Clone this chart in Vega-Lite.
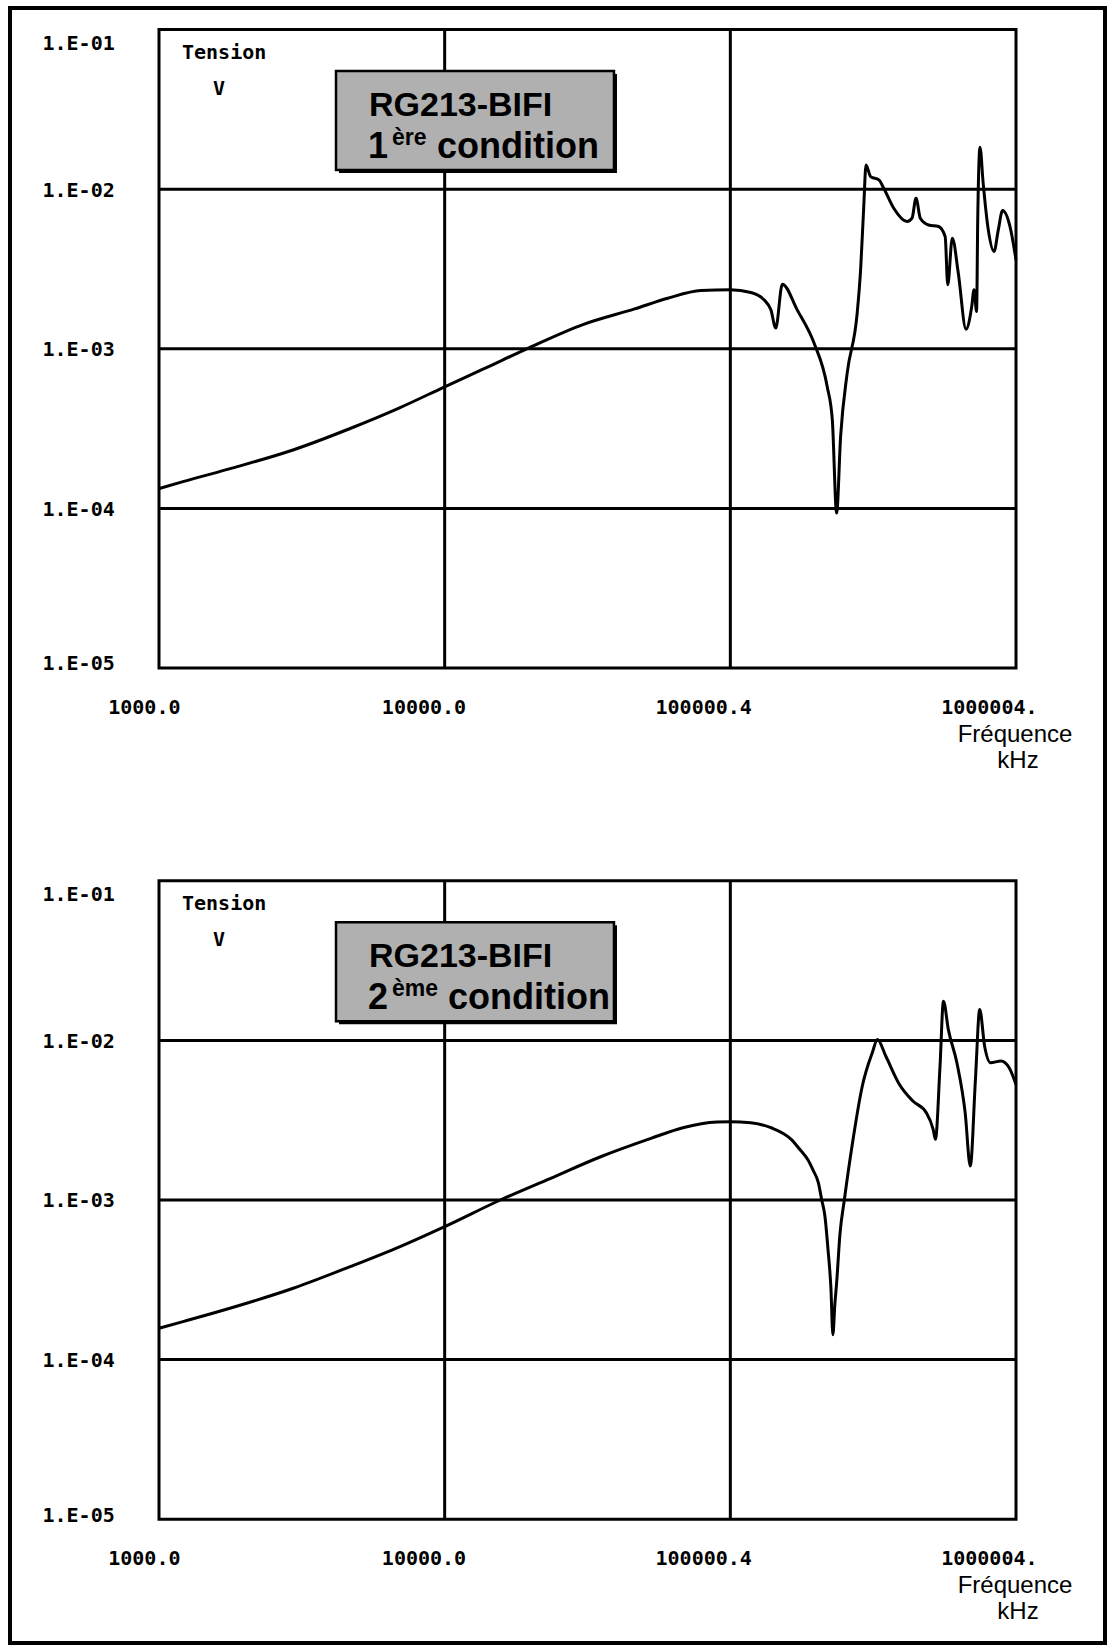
{
  "$schema": "https://vega.github.io/schema/vega-lite/v6.json",
  "width": 1110,
  "height": 1645,
  "autosize": {"type": "fit", "contains": "padding"},
  "padding": {"left": 10, "top": 8, "right": 5, "bottom": 2},
  "background": "white",
  "config": {"view": {"stroke": "black", "strokeWidth": 4}, "font": "Liberation Sans"},
  "datasets": {
    "curve1": [
      {"f": 1000, "v": 0.00013305}, {"f": 1213.4, "v": 0.00014723}, {"f": 1815.5, "v": 0.00017947}, {"f": 2944.4, "v": 0.00023227},
      {"f": 4645.2, "v": 0.0003155}, {"f": 6950.2, "v": 0.00042658}, {"f": 10000, "v": 0.0005781}, {"f": 13614, "v": 0.00074473},
      {"f": 19815, "v": 0.0010186}, {"f": 30479, "v": 0.0014191}, {"f": 46238, "v": 0.0017783},
      {"f": 60395, "v": 0.0020749}, {"f": 78886, "v": 0.0023174}, {"f": 100000, "v": 0.0023442}, {"f": 118032, "v": 0.0022542},
      {"f": 131222, "v": 0.0020277}, {"f": 138676, "v": 0.0017539}, {"f": 144212, "v": 0.001349}, {"f": 152055, "v": 0.002541},
      {"f": 171396, "v": 0.0017539}, {"f": 196336, "v": 0.0010864}, {"f": 218273, "v": 0.00058076}, {"f": 227510, "v": 0.00035892},
      {"f": 235505, "v": 0.00009354}, {"f": 243220, "v": 0.00028249}, {"f": 256448, "v": 0.00070469}, {"f": 277971, "v": 0.0016711},
      {"f": 285759, "v": 0.0031261}, {"f": 293089, "v": 0.0077804}, {"f": 298538, "v": 0.014191}, {"f": 309742, "v": 0.011995},
      {"f": 331131, "v": 0.011429}, {"f": 344350, "v": 0.010139}, {"f": 373250, "v": 0.0076033}, {"f": 415911, "v": 0.0062661},
      {"f": 432514, "v": 0.0065766}, {"f": 446684, "v": 0.0087902}, {"f": 462381, "v": 0.0065766}, {"f": 494311, "v": 0.0059704},
      {"f": 535797, "v": 0.0058345}, {"f": 564937, "v": 0.0050466}, {"f": 576766, "v": 0.0025177}, {"f": 598412, "v": 0.0049317},
      {"f": 628058, "v": 0.0029785}, {"f": 668344, "v": 0.0013274}, {"f": 699842, "v": 0.0018408}, {"f": 712853, "v": 0.0023442},
      {"f": 727780, "v": 0.001714}, {"f": 734514, "v": 0.0064269}, {"f": 748170, "v": 0.018323}, {"f": 767361, "v": 0.010914},
      {"f": 799834, "v": 0.005559}, {"f": 837529, "v": 0.0040644}, {"f": 866962, "v": 0.005559}, {"f": 897429, "v": 0.0073451},
      {"f": 952796, "v": 0.0058345}, {"f": 1000000, "v": 0.0036058}
    ],
    "curve2": [
      {"f": 1000, "v": 0.00015704}, {"f": 1213.4, "v": 0.00017298}, {"f": 1819.7, "v": 0.00021281}, {"f": 2951.2, "v": 0.0002799},
      {"f": 4666.6, "v": 0.00038194}, {"f": 6982.3, "v": 0.0005105}, {"f": 10000, "v": 0.00068077}, {"f": 15668, "v": 0.001},
      {"f": 23496, "v": 0.0013677}, {"f": 35156, "v": 0.0018664}, {"f": 52723, "v": 0.0024322}, {"f": 68234, "v": 0.0028379},
      {"f": 89743, "v": 0.0030832}, {"f": 100000, "v": 0.0030974}, {"f": 117761, "v": 0.0030479}, {"f": 138676, "v": 0.0028379},
      {"f": 163305, "v": 0.0023988}, {"f": 175792, "v": 0.0020559}, {"f": 187068, "v": 0.0017783}, {"f": 194984, "v": 0.0015311},
      {"f": 203236, "v": 0.0012853}, {"f": 208930, "v": 0.001}, {"f": 214289, "v": 0.00079433}, {"f": 219786, "v": 0.00048753},
      {"f": 224905, "v": 0.00028184}, {"f": 228560, "v": 0.00014322}, {"f": 232274, "v": 0.00022387}, {"f": 235505, "v": 0.0003013},
      {"f": 242103, "v": 0.00061944}, {"f": 250611, "v": 0.001}, {"f": 266686, "v": 0.0021777}, {"f": 289734, "v": 0.0051761},
      {"f": 314051, "v": 0.0083753}, {"f": 327341, "v": 0.010139}, {"f": 349945, "v": 0.0079799}, {"f": 390841, "v": 0.0052966},
      {"f": 435512, "v": 0.0041687}, {"f": 485289, "v": 0.0035237}, {"f": 512861, "v": 0.0027733}, {"f": 522396, "v": 0.0023988},
      {"f": 542001, "v": 0.0069024}, {"f": 557186, "v": 0.01762}, {"f": 579429, "v": 0.011722}, {"f": 620869, "v": 0.0072444},
      {"f": 663743, "v": 0.0035237}, {"f": 691831, "v": 0.0016331}, {"f": 721107, "v": 0.0057016}, {"f": 746449, "v": 0.015631},
      {"f": 776247, "v": 0.0092257}, {"f": 814704, "v": 0.0072444}, {"f": 885116, "v": 0.0074302}, {"f": 946237, "v": 0.0067453},
      {"f": 1000000, "v": 0.0052966}
    ],
    "hgrid": [{"v": 0.01}, {"v": 0.001}, {"v": 0.0001}],
    "vgrid": [{"f": 10000}, {"f": 100000}],
    "one": [{"item": "shape"}],
    "annot": [
      {"panel": "top", "key": "tension", "text": "Tension"},
      {"panel": "top", "key": "unit", "text": "V"},
      {"panel": "top", "key": "name", "text": "RG213-BIFI"},
      {"panel": "top", "key": "num", "text": "1"},
      {"panel": "top", "key": "sup", "text": "ère"},
      {"panel": "top", "key": "cond", "text": "condition"},
      {"panel": "top", "key": "xt1", "text": "Fréquence"},
      {"panel": "top", "key": "xt2", "text": "kHz"},
      {"panel": "bottom", "key": "tension", "text": "Tension"},
      {"panel": "bottom", "key": "unit", "text": "V"},
      {"panel": "bottom", "key": "name", "text": "RG213-BIFI"},
      {"panel": "bottom", "key": "num", "text": "2"},
      {"panel": "bottom", "key": "sup", "text": "ème"},
      {"panel": "bottom", "key": "cond", "text": "condition"},
      {"panel": "bottom", "key": "xt1", "text": "Fréquence"},
      {"panel": "bottom", "key": "xt2", "text": "kHz"}
    ]
  },
  "layer": [
    {
      "layer": [
        {
          "data": {"name": "curve1"},
          "mark": {"type": "line", "color": "black", "strokeWidth": 3, "interpolate": "monotone"},
          "encoding": {
            "x": {"field": "f", "type": "quantitative", "scale": {"type": "log", "domain": [300.9, 2048900], "nice": false},
              "axis": {"orient": "bottom", "offset": -975, "values": [1000, 10000, 100000, 1000000],
                "labelExpr": "datum.value == 1000 ? '1000.0' : datum.value == 10000 ? '10000.0' : datum.value == 100000 ? '100000.4' : '1000004.'",
                "title": null, "domain": false, "ticks": false, "tickSize": 0, "grid": false,
                "labelAlign": "right", "labelBaseline": "alphabetic", "labelOffset": 21, "labelPadding": 45,
                "labelFont": "DejaVu Sans Mono", "labelFontWeight": "bold", "labelFontSize": 20, "labelColor": "black",
                "labelFlush": false, "labelOverlap": false, "labelBound": false}},
            "y": {"field": "v", "type": "quantitative", "scale": {"type": "log", "domain": [7.78e-12, 0.13656], "nice": false},
              "axis": {"orient": "left", "offset": -32, "values": [0.00001, 0.0001, 0.001, 0.01, 0.1],
                "labelExpr": "'1.E-0' + format(-log(datum.value) / LN10, '.0f')",
                "title": null, "domain": false, "ticks": false, "tickSize": 0, "grid": false,
                "labelAlign": "left", "labelBaseline": "middle", "labelPadding": 0,
                "labelOffset": {"condition": [{"test": "datum.value > 0.05", "value": 14}, {"test": "datum.value < 0.00002", "value": -4}], "value": 1},
                "labelFont": "DejaVu Sans Mono", "labelFontWeight": "bold", "labelFontSize": 20, "labelColor": "black",
                "labelFlush": false, "labelOverlap": false, "labelBound": false}}
          }
        },
        {
          "data": {"name": "hgrid"},
          "mark": {"type": "rule", "color": "black", "strokeWidth": 3},
          "encoding": {"y": {"field": "v", "type": "quantitative"}, "x": {"datum": 1000, "type": "quantitative"}, "x2": {"datum": 1000000}}
        },
        {
          "data": {"name": "vgrid"},
          "mark": {"type": "rule", "color": "black", "strokeWidth": 3},
          "encoding": {"x": {"field": "f", "type": "quantitative"}, "y": {"datum": 0.00001, "type": "quantitative"}, "y2": {"datum": 0.1}}
        },
        {
          "data": {"name": "one"},
          "mark": {"type": "rect", "filled": false, "stroke": "black", "strokeWidth": 3},
          "encoding": {"x": {"datum": 1000, "type": "quantitative"}, "x2": {"datum": 1000000}, "y": {"datum": 0.00001, "type": "quantitative"}, "y2": {"datum": 0.1}}
        },
        {
          "data": {"name": "one"},
          "mark": {"type": "rect", "fill": "black"},
          "encoding": {"x": {"datum": 4267, "type": "quantitative"}, "x2": {"datum": 40104}, "y": {"datum": 0.01264, "type": "quantitative"}, "y2": {"datum": 0.05267}}
        },
        {
          "data": {"name": "one"},
          "mark": {"type": "rect", "fill": "#b0b0b0", "stroke": "black", "strokeWidth": 2.5},
          "encoding": {"x": {"datum": 4165, "type": "quantitative"}, "x2": {"datum": 39144}, "y": {"datum": 0.0132, "type": "quantitative"}, "y2": {"datum": 0.055}}
        },
        {
          "data": {"name": "annot"}, "transform": [{"filter": "datum.panel == 'top' && datum.key == 'tension'"}],
          "mark": {"type": "text", "align": "left", "baseline": "alphabetic", "dx": 23, "dy": 29, "font": "DejaVu Sans Mono", "fontWeight": "bold", "fontSize": 20, "color": "black"},
          "encoding": {"x": {"datum": 1000, "type": "quantitative"}, "y": {"datum": 0.1, "type": "quantitative"}, "text": {"field": "text"}}
        },
        {
          "data": {"name": "annot"}, "transform": [{"filter": "datum.panel == 'top' && datum.key == 'unit'"}],
          "mark": {"type": "text", "align": "left", "baseline": "alphabetic", "dx": 54, "dy": 65, "font": "DejaVu Sans Mono", "fontWeight": "bold", "fontSize": 20, "color": "black"},
          "encoding": {"x": {"datum": 1000, "type": "quantitative"}, "y": {"datum": 0.1, "type": "quantitative"}, "text": {"field": "text"}}
        },
        {
          "data": {"name": "annot"}, "transform": [{"filter": "datum.panel == 'top' && datum.key == 'name'"}],
          "mark": {"type": "text", "align": "left", "baseline": "alphabetic", "dx": 210, "dy": 86, "font": "Liberation Sans", "fontWeight": "bold", "fontSize": 34, "color": "black"},
          "encoding": {"x": {"datum": 1000, "type": "quantitative"}, "y": {"datum": 0.1, "type": "quantitative"}, "text": {"field": "text"}}
        },
        {
          "data": {"name": "annot"}, "transform": [{"filter": "datum.panel == 'top' && datum.key == 'num'"}],
          "mark": {"type": "text", "align": "left", "baseline": "alphabetic", "dx": 209, "dy": 128, "font": "Liberation Sans", "fontWeight": "bold", "fontSize": 36, "color": "black"},
          "encoding": {"x": {"datum": 1000, "type": "quantitative"}, "y": {"datum": 0.1, "type": "quantitative"}, "text": {"field": "text"}}
        },
        {
          "data": {"name": "annot"}, "transform": [{"filter": "datum.panel == 'top' && datum.key == 'sup'"}],
          "mark": {"type": "text", "align": "left", "baseline": "alphabetic", "dx": 233, "dy": 115, "font": "Liberation Sans", "fontWeight": "bold", "fontSize": 23, "color": "black"},
          "encoding": {"x": {"datum": 1000, "type": "quantitative"}, "y": {"datum": 0.1, "type": "quantitative"}, "text": {"field": "text"}}
        },
        {
          "data": {"name": "annot"}, "transform": [{"filter": "datum.panel == 'top' && datum.key == 'cond'"}],
          "mark": {"type": "text", "align": "left", "baseline": "alphabetic", "dx": 278, "dy": 128, "font": "Liberation Sans", "fontWeight": "bold", "fontSize": 36, "color": "black"},
          "encoding": {"x": {"datum": 1000, "type": "quantitative"}, "y": {"datum": 0.1, "type": "quantitative"}, "text": {"field": "text"}}
        },
        {
          "data": {"name": "annot"}, "transform": [{"filter": "datum.panel == 'top' && datum.key == 'xt1'"}],
          "mark": {"type": "text", "align": "center", "baseline": "alphabetic", "dx": -1, "dy": 74, "font": "Liberation Sans", "fontSize": 24, "color": "black"},
          "encoding": {"x": {"datum": 1000000, "type": "quantitative"}, "y": {"datum": 0.00001, "type": "quantitative"}, "text": {"field": "text"}}
        },
        {
          "data": {"name": "annot"}, "transform": [{"filter": "datum.panel == 'top' && datum.key == 'xt2'"}],
          "mark": {"type": "text", "align": "center", "baseline": "alphabetic", "dx": 2, "dy": 100, "font": "Liberation Sans", "fontSize": 24, "color": "black"},
          "encoding": {"x": {"datum": 1000000, "type": "quantitative"}, "y": {"datum": 0.00001, "type": "quantitative"}, "text": {"field": "text"}}
        }
      ]
    },
    {
      "layer": [
        {
          "data": {"name": "curve2"},
          "mark": {"type": "line", "color": "black", "strokeWidth": 3, "interpolate": "monotone"},
          "encoding": {
            "x": {"field": "f", "type": "quantitative", "scale": {"type": "log", "domain": [300.9, 2048900], "nice": false},
              "axis": {"orient": "bottom", "offset": -123.8, "values": [1000, 10000, 100000, 1000000],
                "labelExpr": "datum.value == 1000 ? '1000.0' : datum.value == 10000 ? '10000.0' : datum.value == 100000 ? '100000.4' : '1000004.'",
                "title": null, "domain": false, "ticks": false, "tickSize": 0, "grid": false,
                "labelAlign": "right", "labelBaseline": "alphabetic", "labelOffset": 21, "labelPadding": 45,
                "labelFont": "DejaVu Sans Mono", "labelFontWeight": "bold", "labelFontSize": 20, "labelColor": "black",
                "labelFlush": false, "labelOverlap": false, "labelBound": false}},
            "y": {"field": "v", "type": "quantitative", "scale": {"type": "log", "domain": [0.0000016759, 29421], "nice": false},
              "axis": {"orient": "left", "offset": -32, "values": [0.00001, 0.0001, 0.001, 0.01, 0.1],
                "labelExpr": "'1.E-0' + format(-log(datum.value) / LN10, '.0f')",
                "title": null, "domain": false, "ticks": false, "tickSize": 0, "grid": false,
                "labelAlign": "left", "labelBaseline": "middle", "labelPadding": 0,
                "labelOffset": {"condition": [{"test": "datum.value > 0.05", "value": 14}, {"test": "datum.value < 0.00002", "value": -4}], "value": 1},
                "labelFont": "DejaVu Sans Mono", "labelFontWeight": "bold", "labelFontSize": 20, "labelColor": "black",
                "labelFlush": false, "labelOverlap": false, "labelBound": false}}
          }
        },
        {
          "data": {"name": "hgrid"},
          "mark": {"type": "rule", "color": "black", "strokeWidth": 3},
          "encoding": {"y": {"field": "v", "type": "quantitative"}, "x": {"datum": 1000, "type": "quantitative"}, "x2": {"datum": 1000000}}
        },
        {
          "data": {"name": "vgrid"},
          "mark": {"type": "rule", "color": "black", "strokeWidth": 3},
          "encoding": {"x": {"field": "f", "type": "quantitative"}, "y": {"datum": 0.00001, "type": "quantitative"}, "y2": {"datum": 0.1}}
        },
        {
          "data": {"name": "one"},
          "mark": {"type": "rect", "filled": false, "stroke": "black", "strokeWidth": 3},
          "encoding": {"x": {"datum": 1000, "type": "quantitative"}, "x2": {"datum": 1000000}, "y": {"datum": 0.00001, "type": "quantitative"}, "y2": {"datum": 0.1}}
        },
        {
          "data": {"name": "one"},
          "mark": {"type": "rect", "fill": "black"},
          "encoding": {"x": {"datum": 4267, "type": "quantitative"}, "x2": {"datum": 40104}, "y": {"datum": 0.01264, "type": "quantitative"}, "y2": {"datum": 0.05267}}
        },
        {
          "data": {"name": "one"},
          "mark": {"type": "rect", "fill": "#b0b0b0", "stroke": "black", "strokeWidth": 2.5},
          "encoding": {"x": {"datum": 4165, "type": "quantitative"}, "x2": {"datum": 39144}, "y": {"datum": 0.0132, "type": "quantitative"}, "y2": {"datum": 0.055}}
        },
        {
          "data": {"name": "annot"}, "transform": [{"filter": "datum.panel == 'bottom' && datum.key == 'tension'"}],
          "mark": {"type": "text", "align": "left", "baseline": "alphabetic", "dx": 23, "dy": 29, "font": "DejaVu Sans Mono", "fontWeight": "bold", "fontSize": 20, "color": "black"},
          "encoding": {"x": {"datum": 1000, "type": "quantitative"}, "y": {"datum": 0.1, "type": "quantitative"}, "text": {"field": "text"}}
        },
        {
          "data": {"name": "annot"}, "transform": [{"filter": "datum.panel == 'bottom' && datum.key == 'unit'"}],
          "mark": {"type": "text", "align": "left", "baseline": "alphabetic", "dx": 54, "dy": 65, "font": "DejaVu Sans Mono", "fontWeight": "bold", "fontSize": 20, "color": "black"},
          "encoding": {"x": {"datum": 1000, "type": "quantitative"}, "y": {"datum": 0.1, "type": "quantitative"}, "text": {"field": "text"}}
        },
        {
          "data": {"name": "annot"}, "transform": [{"filter": "datum.panel == 'bottom' && datum.key == 'name'"}],
          "mark": {"type": "text", "align": "left", "baseline": "alphabetic", "dx": 210, "dy": 86, "font": "Liberation Sans", "fontWeight": "bold", "fontSize": 34, "color": "black"},
          "encoding": {"x": {"datum": 1000, "type": "quantitative"}, "y": {"datum": 0.1, "type": "quantitative"}, "text": {"field": "text"}}
        },
        {
          "data": {"name": "annot"}, "transform": [{"filter": "datum.panel == 'bottom' && datum.key == 'num'"}],
          "mark": {"type": "text", "align": "left", "baseline": "alphabetic", "dx": 209, "dy": 128, "font": "Liberation Sans", "fontWeight": "bold", "fontSize": 36, "color": "black"},
          "encoding": {"x": {"datum": 1000, "type": "quantitative"}, "y": {"datum": 0.1, "type": "quantitative"}, "text": {"field": "text"}}
        },
        {
          "data": {"name": "annot"}, "transform": [{"filter": "datum.panel == 'bottom' && datum.key == 'sup'"}],
          "mark": {"type": "text", "align": "left", "baseline": "alphabetic", "dx": 233, "dy": 115, "font": "Liberation Sans", "fontWeight": "bold", "fontSize": 23, "color": "black"},
          "encoding": {"x": {"datum": 1000, "type": "quantitative"}, "y": {"datum": 0.1, "type": "quantitative"}, "text": {"field": "text"}}
        },
        {
          "data": {"name": "annot"}, "transform": [{"filter": "datum.panel == 'bottom' && datum.key == 'cond'"}],
          "mark": {"type": "text", "align": "left", "baseline": "alphabetic", "dx": 289, "dy": 128, "font": "Liberation Sans", "fontWeight": "bold", "fontSize": 36, "color": "black"},
          "encoding": {"x": {"datum": 1000, "type": "quantitative"}, "y": {"datum": 0.1, "type": "quantitative"}, "text": {"field": "text"}}
        },
        {
          "data": {"name": "annot"}, "transform": [{"filter": "datum.panel == 'bottom' && datum.key == 'xt1'"}],
          "mark": {"type": "text", "align": "center", "baseline": "alphabetic", "dx": -1, "dy": 74, "font": "Liberation Sans", "fontSize": 24, "color": "black"},
          "encoding": {"x": {"datum": 1000000, "type": "quantitative"}, "y": {"datum": 0.00001, "type": "quantitative"}, "text": {"field": "text"}}
        },
        {
          "data": {"name": "annot"}, "transform": [{"filter": "datum.panel == 'bottom' && datum.key == 'xt2'"}],
          "mark": {"type": "text", "align": "center", "baseline": "alphabetic", "dx": 2, "dy": 100, "font": "Liberation Sans", "fontSize": 24, "color": "black"},
          "encoding": {"x": {"datum": 1000000, "type": "quantitative"}, "y": {"datum": 0.00001, "type": "quantitative"}, "text": {"field": "text"}}
        }
      ]
    }
  ],
  "resolve": {"scale": {"x": "independent", "y": "independent"}}
}
